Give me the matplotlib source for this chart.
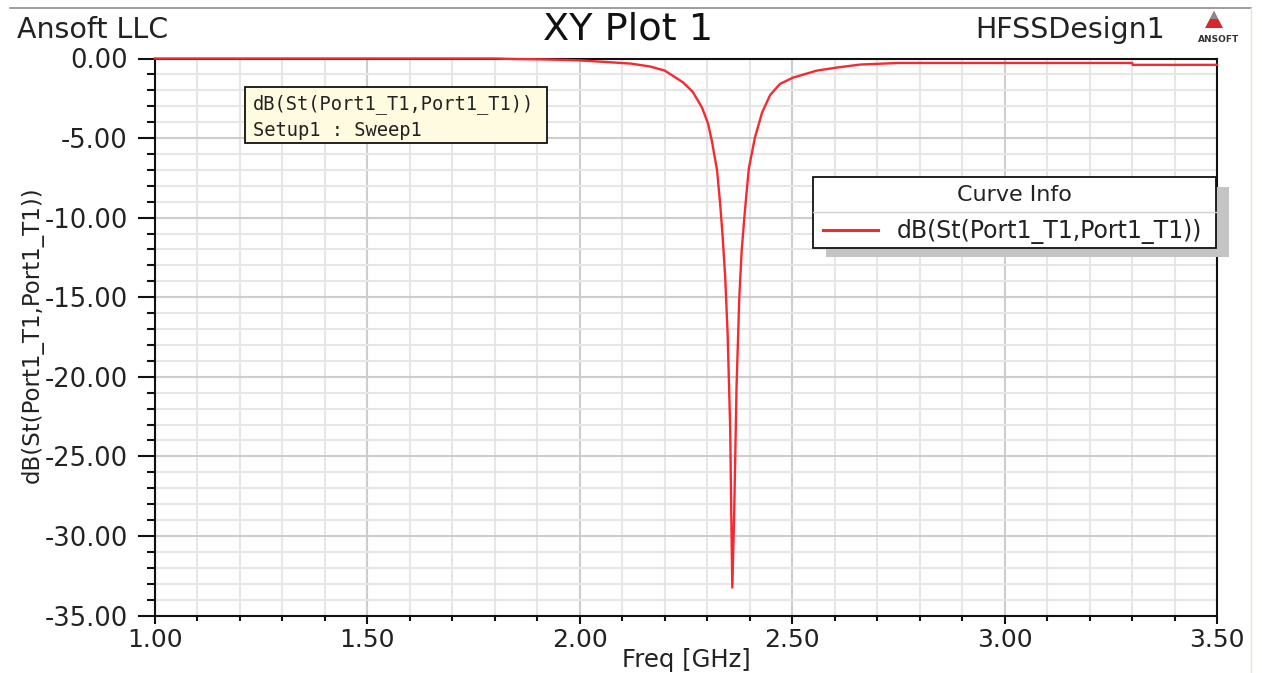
import matplotlib
matplotlib.use("Agg")
import matplotlib.pyplot as plt
from matplotlib.patches import Rectangle, Polygon
from matplotlib.lines import Line2D
from matplotlib.ticker import MultipleLocator, FormatStrFormatter

# Return loss of the port, dB(S11) versus frequency
freq_ghz = [1.00, 1.50, 1.80, 1.84, 1.90, 1.95, 2.00, 2.05, 2.12, 2.165, 2.20,
            2.243, 2.266, 2.288, 2.302, 2.311, 2.323, 2.330, 2.336, 2.342,
            2.348, 2.354, 2.357, 2.359, 2.3635, 2.369, 2.3755, 2.381, 2.387,
            2.393, 2.398, 2.412, 2.429, 2.448, 2.471, 2.502, 2.558, 2.605,
            2.66, 2.75, 3.00, 3.30, 3.302, 3.50]
s11_db = [0.0, 0.0, 0.0, -0.03, -0.05, -0.08, -0.12, -0.20, -0.32, -0.50, -0.76,
          -1.5, -2.1, -3.1, -4.1, -5.2, -7.0, -9.0, -11.1, -13.6,
          -17.3, -23.2, -29.5, -33.3, -28.5, -20.6, -15.0, -12.1, -10.1,
          -8.3, -6.9, -5.0, -3.4, -2.3, -1.6, -1.2, -0.76, -0.57,
          -0.38, -0.28, -0.28, -0.28, -0.40, -0.40]

trace_name = "dB(St(Port1_T1,Port1_T1))"
setup_name = "Setup1 : Sweep1"
x_ticks = [1.00, 1.50, 2.00, 2.50, 3.00, 3.50]
y_ticks = [0.0, -5.0, -10.0, -15.0, -20.0, -25.0, -30.0, -35.0]

W, H = 1262, 673
fig = plt.figure(figsize=(W / 100, H / 100), dpi=100)
fig.patch.set_facecolor("white")


def fx(px):
    return px / W


def fy(py):
    return 1 - py / H


FONT = "DejaVu Sans"
TXT = "#222222"
RED = "#f52a30"

ax = fig.add_axes([fx(155), fy(615.5), fx(1217) - fx(155), fy(58.5) - fy(615.5)])
ax.set_facecolor("white")

ax.plot(freq_ghz, s11_db, color=RED, lw=1.7, solid_joinstyle="miter",
        zorder=4, clip_on=False)

ax.set_xlim(1.0, 3.5)
ax.set_ylim(-35, 0)
ax.set_xticks(x_ticks)
ax.set_yticks(y_ticks)
ax.xaxis.set_minor_locator(MultipleLocator(0.1))
ax.yaxis.set_minor_locator(MultipleLocator(1.0))
ax.xaxis.set_major_formatter(FormatStrFormatter("%.2f"))
ax.yaxis.set_major_formatter(FormatStrFormatter("%.2f"))

ax.grid(which="minor", color="#e6e6e6", lw=1.5, zorder=0)
ax.grid(which="major", color="#cdcdcd", lw=1.5, zorder=0)
ax.set_axisbelow(True)

for s in ax.spines.values():
    s.set_linewidth(1.5)
    s.set_color("#111111")

ax.tick_params(axis="x", which="major", direction="out", length=6, width=1.5,
               pad=3, labelsize=18, labelcolor=TXT, color="#111111")
ax.tick_params(axis="x", which="minor", direction="out", length=3.5, width=1.5,
               color="#111111")
ax.tick_params(axis="y", which="major", direction="out", length=12.5, width=1.5,
               pad=7, labelsize=18.5, labelcolor=TXT, color="#111111")
ax.tick_params(axis="y", which="minor", direction="out", length=6, width=1.5,
               color="#111111")
for lab in ax.get_xticklabels() + ax.get_yticklabels():
    lab.set_family(FONT)

# axis titles
fig.text(fx(686), fy(660), "Freq [GHz]", ha="center", va="center",
         fontsize=17.5, family=FONT, color=TXT)
fig.text(fx(32), fy(335), trace_name, ha="center", va="center", rotation=90,
         fontsize=16.5, family=FONT, color=TXT)

# header texts
fig.text(fx(17), fy(30), "Ansoft LLC", ha="left", va="center",
         fontsize=20.5, family=FONT, color=TXT)
fig.text(fx(628), fy(30), "XY Plot 1", ha="center", va="center",
         fontsize=27.5, family=FONT, color="#111111")
fig.text(fx(1165), fy(30), "HFSSDesign1", ha="right", va="center",
         fontsize=20.5, family=FONT, color=TXT)

# vendor mark
logo = [Polygon([[fx(1214), fy(11)], [fx(1205), fy(28)], [fx(1223), fy(28)]],
                closed=True, transform=fig.transFigure, facecolor="#d8262e",
                edgecolor="none"),
        Polygon([[fx(1214), fy(11)], [fx(1210), fy(19)], [fx(1218), fy(19)]],
                closed=True, transform=fig.transFigure, facecolor="#8a8a8a",
                edgecolor="none")]
for p in logo:
    fig.add_artist(p)
fig.text(fx(1219), fy(39), "ANSOFT", ha="center", va="center", fontsize=6.5,
         family=FONT, weight="bold", color="#333333")

# frame around the plot sheet
fig.add_artist(Line2D([fx(10), fx(1251)], [fy(8), fy(8)], transform=fig.transFigure,
                      color="#8c8c8c", lw=1.2))
fig.add_artist(Line2D([fx(1251), fx(1251)], [fy(8), fy(673)], transform=fig.transFigure,
                      color="#e6e2d6", lw=1.0))

# trace marker box
fig.add_artist(Rectangle((fx(245), fy(143)), fx(547) - fx(245), fy(87) - fy(143),
                         transform=fig.transFigure, facecolor="#fffbe0",
                         edgecolor="#111111", lw=1.3, zorder=5))
fig.text(fx(253), fy(104), trace_name, ha="left", va="center", fontsize=13.5,
         family="DejaVu Sans Mono", color=TXT, zorder=6)
fig.text(fx(253), fy(130), setup_name, ha="left", va="center", fontsize=13.5,
         family="DejaVu Sans Mono", color=TXT, zorder=6)

# curve info box with drop shadow
fig.add_artist(Rectangle((fx(826), fy(257)), fx(1229) - fx(826), fy(187) - fy(257),
                         transform=fig.transFigure, facecolor="#c4c4c4",
                         edgecolor="none", zorder=5))
fig.add_artist(Rectangle((fx(813), fy(248)), fx(1216) - fx(813), fy(177) - fy(248),
                         transform=fig.transFigure, facecolor="white",
                         edgecolor="#111111", lw=1.3, zorder=6))
fig.add_artist(Line2D([fx(813), fx(1216)], [fy(212), fy(212)], transform=fig.transFigure,
                      color="#d0d0d0", lw=1.0, zorder=7))
fig.text(fx(1014), fy(195), "Curve Info", ha="center", va="center", fontsize=16,
         family=FONT, color=TXT, zorder=7)
fig.add_artist(Line2D([fx(823), fx(878)], [fy(230), fy(230)], transform=fig.transFigure,
                      color=RED, lw=2.2, zorder=7))
fig.text(fx(897), fy(231), trace_name, ha="left", va="center", fontsize=17,
         family=FONT, color=TXT, zorder=7)

fig.savefig("out.png", dpi=100, facecolor="white")
